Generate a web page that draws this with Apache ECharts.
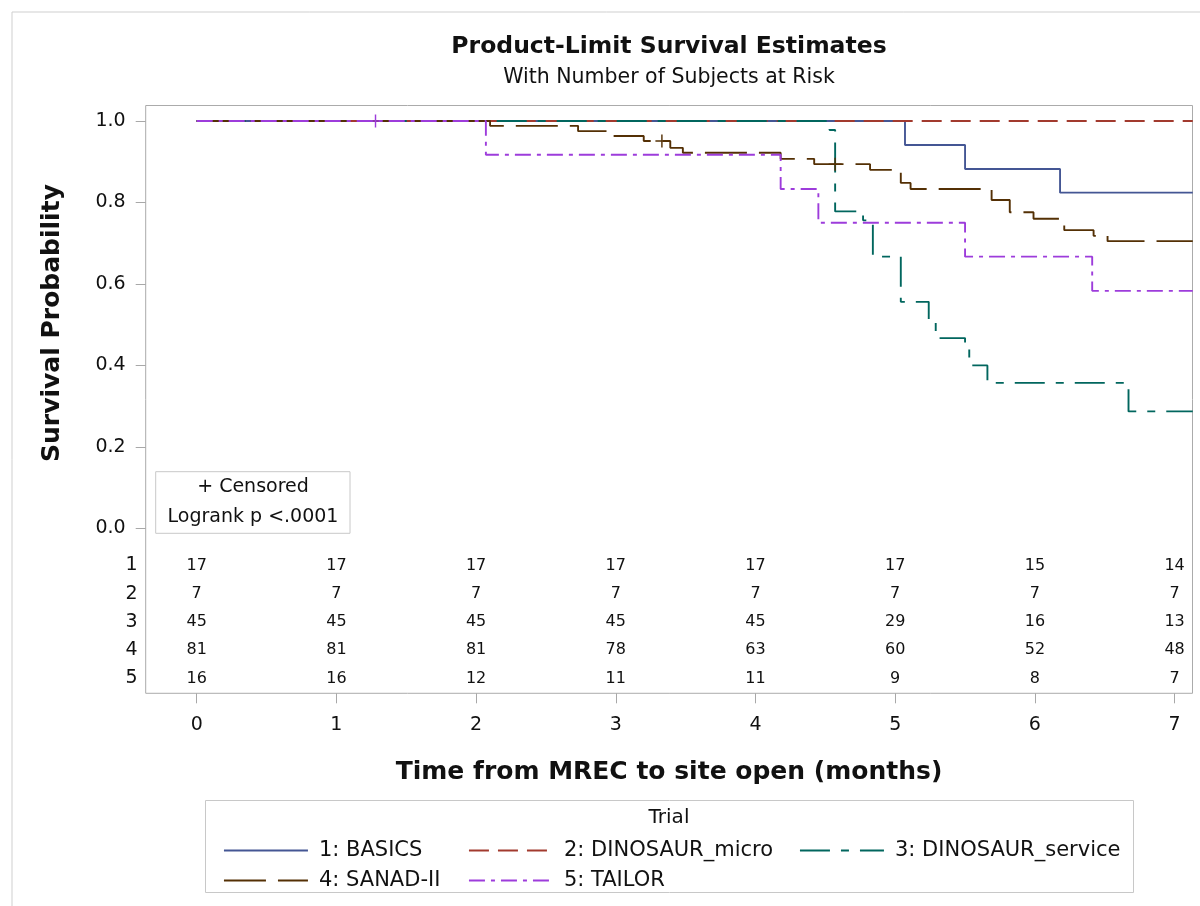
<!DOCTYPE html>
<html><head><meta charset="utf-8">
<script src="https://cdn.jsdelivr.net/npm/echarts@6/dist/echarts.min.js"></script>
<style>html,body{margin:0;padding:0;background:#fff}#c{width:1200px;height:906px}</style>
</head><body><div id="c"></div>
<script>
// ---------- data ----------
const seriesNames = ['1: BASICS', '2: DINOSAUR_micro', '3: DINOSAUR_service', '4: SANAD-II', '5: TAILOR'];

const basicsTime = [0, 5.07, 5.50, 6.18, 7.13];
const basicsSurv = [1, 0.941, 0.882, 0.824, 0.824];

const microTime = [0, 7.13];
const microSurv = [1, 1];

const serviceTime = [0, 4.53, 4.57, 4.77, 4.84, 5.04, 5.24, 5.29, 5.50, 5.53, 5.66, 6.67, 7.13];
const serviceSurv = [1, 0.978, 0.778, 0.756, 0.667, 0.556, 0.511, 0.467, 0.445, 0.400, 0.357, 0.287, 0.287];

const sanadTime = [0, 2.10, 2.73, 2.98, 3.20, 3.39, 3.48, 4.18, 4.42, 4.82, 5.04, 5.11, 5.69, 5.82, 5.99, 6.21, 6.42, 6.52, 7.13];
const sanadSurv = [1, 0.988, 0.975, 0.963, 0.951, 0.934, 0.922, 0.907, 0.894, 0.880, 0.848, 0.833, 0.806, 0.776, 0.760, 0.732, 0.718, 0.705, 0.705];

const tailorTime = [0, 2.07, 4.18, 4.45, 5.50, 6.41, 7.13];
const tailorSurv = [1, 0.917, 0.833, 0.750, 0.667, 0.583, 0.583];

const tailorCensorTime = [1.28];
const tailorCensorSurv = [1.0];
const sanadCensorTime = [3.33, 4.57];
const sanadCensorSurv = [0.951, 0.894];

const xTicks = [0, 1, 2, 3, 4, 5, 6, 7];
const yTicks = [0, 0.2, 0.4, 0.6, 0.8, 1.0];
const riskRows = ['1', '2', '3', '4', '5'];
const atRisk1 = [17, 17, 17, 17, 17, 17, 15, 14];
const atRisk2 = [7, 7, 7, 7, 7, 7, 7, 7];
const atRisk3 = [45, 45, 45, 45, 45, 29, 16, 13];
const atRisk4 = [81, 81, 81, 78, 63, 60, 52, 48];
const atRisk5 = [16, 16, 12, 11, 11, 9, 8, 7];

// ---------- styling / layout ----------
const FONT = 'DejaVu Sans';
const TXT = '#111';
const colors = ['#445694', '#A23A2E', '#01665E', '#543005', '#9D3CDB'];
const dashes = ['solid', [20, 9], [30, 11, 8, 11], [42, 12], [16, 6, 4, 6]];
const LW = 1.9;
const X_MIN = -0.365, X_MAX = 7.128, Y_MIN = -0.405, Y_MAX = 1.038;
const G = { left: 145.7, right: 7.5, top: 105.5, bottom: 212.7 };
const TICK_COLOR = '#a8a8a8';

const curves = [
  [basicsTime, basicsSurv], [microTime, microSurv], [serviceTime, serviceSurv],
  [sanadTime, sanadSurv], [tailorTime, tailorSurv]
];
const zip = (a, b) => a.map((v, i) => [v, b[i]]);

const series = curves.map((c, i) => ({
  name: seriesNames[i], type: 'line', step: 'end', xAxisIndex: 0, yAxisIndex: 0,
  data: zip(c[0], c[1]), symbol: 'none', showSymbol: false, animation: false,
  lineStyle: { color: colors[i], width: LW, type: dashes[i] }, itemStyle: { color: colors[i] },
  z: 2 + i
}));

const plusPath = 'path://M-1.1,-10 H1.1 V-1.1 H10 V1.1 H1.1 V10 H-1.1 V1.1 H-10 V-1.1 H-1.1 Z';
[[4, tailorCensorTime, tailorCensorSurv], [3, sanadCensorTime, sanadCensorSurv]].forEach(([i, t, s]) => {
  series.push({
    name: 'censor' + i, type: 'scatter', xAxisIndex: 0, yAxisIndex: 0, data: zip(t, s),
    symbol: plusPath, symbolSize: 13, itemStyle: { color: colors[i], opacity: 1 }, animation: false, z: 10, silent: true
  });
});

const riskTable = [atRisk1, atRisk2, atRisk3, atRisk4, atRisk5];
riskTable.forEach((row, r) => {
  series.push({
    name: 'risk' + r, type: 'scatter', xAxisIndex: 1, yAxisIndex: 1,
    data: row.map((v, j) => [xTicks[j], r, v]), symbolSize: 0, animation: false, silent: true,
    itemStyle: { opacity: 1 },
    label: { show: true, position: 'inside', formatter: p => String(p.value[2]),
      fontFamily: FONT, fontSize: 16, color: TXT, opacity: 1, textBorderWidth: 0 }
  });
});

const legendPos = [[218, 835], [463, 835], [794, 835], [218, 865], [463, 865]];
const legends = seriesNames.map((n, i) => ({
  data: [n], left: legendPos[i][0], top: legendPos[i][1], itemWidth: 84, itemHeight: 22,
  selectedMode: false, itemStyle: { opacity: 0 }, lineStyle: { width: LW },
  textStyle: { fontFamily: FONT, fontSize: 21, color: TXT, padding: [0, 0, 0, 6] }
}));

const option = {
  backgroundColor: '#fff',
  animation: false,
  grid: [
    Object.assign({ show: true, borderColor: '#ababab', borderWidth: 1 }, G),
    { left: G.left, right: G.right, top: 551.4, height: 141.25 }
  ],
  xAxis: [
    { type: 'value', gridIndex: 0, min: X_MIN, max: X_MAX,
      axisLine: { show: false, onZero: false }, splitLine: { show: false },
      axisTick: { show: true, inside: false, length: 10, customValues: xTicks, lineStyle: { color: TICK_COLOR } },
      axisLabel: { customValues: xTicks, margin: 22, fontFamily: FONT, fontSize: 19, color: TXT,
        formatter: v => String(v) } },
    { type: 'value', gridIndex: 1, min: X_MIN, max: X_MAX, show: false }
  ],
  yAxis: [
    { type: 'value', gridIndex: 0, min: Y_MIN, max: Y_MAX,
      axisLine: { show: false, onZero: false }, splitLine: { show: false },
      axisTick: { show: true, inside: false, length: 10, customValues: yTicks, lineStyle: { color: TICK_COLOR } },
      axisLabel: { customValues: yTicks, margin: 20, fontFamily: FONT, fontSize: 19, color: TXT,
        formatter: v => v.toFixed(1) } },
    { type: 'category', gridIndex: 1, data: riskRows, inverse: true,
      axisLine: { show: false }, axisTick: { show: false }, splitLine: { show: false },
      axisLabel: { margin: 8, fontFamily: FONT, fontSize: 19, color: TXT } }
  ],
  legend: legends,
  series: series,
  graphic: [
    { type: 'rect', shape: { x: 12, y: 12, width: 1300, height: 1000 }, style: { fill: 'none', stroke: '#cfcfcf', lineWidth: 1 }, silent: true },
    { type: 'text', x: 669, y: 47, style: { text: 'Product-Limit Survival Estimates', font: 'bold 23.5px "DejaVu Sans"', fill: TXT, align: 'center', verticalAlign: 'middle' } },
    { type: 'text', x: 669, y: 78, style: { text: 'With Number of Subjects at Risk', font: '20.5px "DejaVu Sans"', fill: TXT, align: 'center', verticalAlign: 'middle' } },
    { type: 'text', x: 52, y: 323, rotation: Math.PI / 2, style: { text: 'Survival Probability', font: 'bold 25px "DejaVu Sans"', fill: TXT, align: 'center', verticalAlign: 'middle' } },
    { type: 'text', x: 669, y: 772, style: { text: 'Time from MREC to site open (months)', font: 'bold 25px "DejaVu Sans"', fill: TXT, align: 'center', verticalAlign: 'middle' } },
    { type: 'rect', shape: { x: 155.7, y: 471.7, width: 194.3, height: 61.6 }, style: { fill: '#fff', stroke: '#c8c8c8', lineWidth: 1 }, z: 20 },
    { type: 'text', x: 253, y: 487, z: 21, style: { text: '+ Censored', font: '19px "DejaVu Sans"', fill: TXT, align: 'center', verticalAlign: 'middle' } },
    { type: 'text', x: 253, y: 517, z: 21, style: { text: 'Logrank p <.0001', font: '19px "DejaVu Sans"', fill: TXT, align: 'center', verticalAlign: 'middle' } },
    { type: 'rect', shape: { x: 205.5, y: 800.5, width: 928, height: 92 }, style: { fill: 'none', stroke: '#c8c8c8', lineWidth: 1 } },
    { type: 'text', x: 669, y: 818, style: { text: 'Trial', font: '20px "DejaVu Sans"', fill: TXT, align: 'center', verticalAlign: 'middle' } }
  ]
};

const chart = echarts.init(document.getElementById('c'), null, { renderer: 'canvas' });
chart.setOption(option);
</script>
</body></html>
